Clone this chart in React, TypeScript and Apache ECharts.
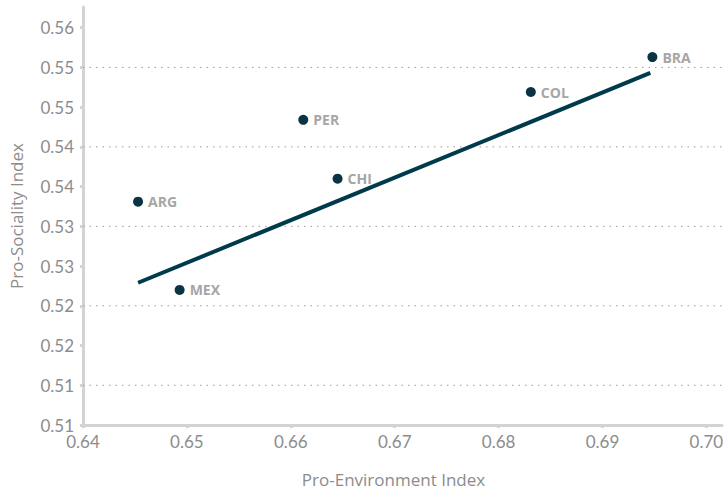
import React, { useEffect, useRef } from "react";
import * as echarts from "echarts";

const countries = ["ARG", "MEX", "PER", "CHI", "COL", "BRA"];
const proEnvironment = [0.6453, 0.6493, 0.6612, 0.6645, 0.6831, 0.6948];
const proSociality = [0.5381, 0.527, 0.5484, 0.541, 0.5519, 0.5563];
const trendX = [0.6453, 0.6946];
const trendY = [0.5279, 0.5543];
const yTickValues = [0.51, 0.515, 0.52, 0.525, 0.53, 0.535, 0.54, 0.545, 0.55, 0.555, 0.56];
const yTickLabels = ["0.51", "0.51", "0.52", "0.52", "0.53", "0.53", "0.54", "0.54", "0.55", "0.55", "0.56"];
const yGridValues = [0.515, 0.525, 0.535, 0.545, 0.555];
const xTickValues = [0.64, 0.65, 0.66, 0.67, 0.68, 0.69, 0.7];
const xTickLabels = ["0.64", "0.65", "0.66", "0.67", "0.68", "0.69", "0.70"];
const X_MIN = 0.64;
const X_MAX = 0.7015;
const Y_MIN = 0.51;
const Y_MAX = 0.5626;

const FONT = "Lato, 'Open Sans', sans-serif";
const WIDE_FONT = "'Open Sans', Lato, sans-serif";

export default function App() {
  const ref = useRef<HTMLDivElement>(null);
  useEffect(() => {
    if (!ref.current) return;
    const chart = echarts.init(ref.current, undefined, { renderer: "svg" });
    const points = countries.map((c, i) => ({ name: c, value: [proEnvironment[i], proSociality[i]] }));
    const gridSeries = yGridValues.map((v) => ({
      type: "line",
      data: [
        [X_MIN, v],
        [X_MAX, v],
      ],
      symbol: "none",
      silent: true,
      z: 1,
      lineStyle: { color: "#9a9a9a", width: 1, type: [1.5, 5] },
    }));
    chart.setOption({
      animation: false,
      textStyle: { fontFamily: FONT },
      grid: { left: 83, right: 2, top: 7, bottom: 68, outerBoundsMode: "none", containLabel: false },
      xAxis: {
        type: "value",
        min: X_MIN,
        max: X_MAX,
        name: "Pro-Environment Index",
        nameLocation: "middle",
        nameGap: 46,
        nameTextStyle: { color: "#8c8c8c", fontSize: 17, fontFamily: WIDE_FONT, padding: [0, 18, 0, 0] },
        axisLine: { show: true, lineStyle: { color: "#d3d3d3", width: 3 } },
        axisTick: {
          show: true,
          length: 3,
          customValues: xTickValues,
          lineStyle: { color: "#d3d3d3", width: 3 },
        },
        axisLabel: {
          customValues: xTickValues,
          color: "#8c8c8c",
          fontSize: 17,
          margin: 8,
          fontFamily: FONT,
          formatter: (v: number) => {
            const i = xTickValues.findIndex((t) => Math.abs(t - v) < 1e-6);
            return i >= 0 ? xTickLabels[i] : "";
          },
        },
        splitLine: { show: false },
      },
      yAxis: {
        type: "value",
        min: Y_MIN,
        max: Y_MAX,
        name: "Pro-Sociality Index",
        nameLocation: "middle",
        nameGap: 58,
        nameRotate: 90,
        nameTextStyle: { color: "#8c8c8c", fontSize: 17, fontFamily: WIDE_FONT },
        axisLine: { show: true, lineStyle: { color: "#d3d3d3", width: 3 } },
        axisTick: {
          show: true,
          length: 3,
          customValues: yTickValues,
          lineStyle: { color: "#d3d3d3", width: 3 },
        },
        axisLabel: {
          customValues: yTickValues,
          color: "#8c8c8c",
          fontSize: 17,
          margin: 9,
          fontFamily: FONT,
          formatter: (v: number) => {
            const i = yTickValues.findIndex((t) => Math.abs(t - v) < 1e-6);
            return i >= 0 ? yTickLabels[i] : "";
          },
        },
        splitLine: { show: false },
      },
      series: [
        ...gridSeries,
        {
          type: "line",
          data: trendX.map((x, i) => [x, trendY[i]]),
          symbol: "none",
          lineStyle: { color: "#003b4c", width: 4 },
          silent: true,
          z: 2,
        },
        {
          type: "scatter",
          data: points,
          symbolSize: 10,
          itemStyle: { color: "#0a3444", opacity: 1 },
          z: 3,
          label: {
            show: true,
            position: "right",
            distance: 5,
            formatter: (p: any) => p.name,
            color: "#a6a6a6",
            fontWeight: "bold",
            fontSize: 14,
            fontFamily: WIDE_FONT,
          },
        },
      ],
    });
    return () => chart.dispose();
  }, []);
  return <div ref={ref} style={{ width: 724, height: 493, position: "absolute", left: 0, top: 0 }} />;
}
